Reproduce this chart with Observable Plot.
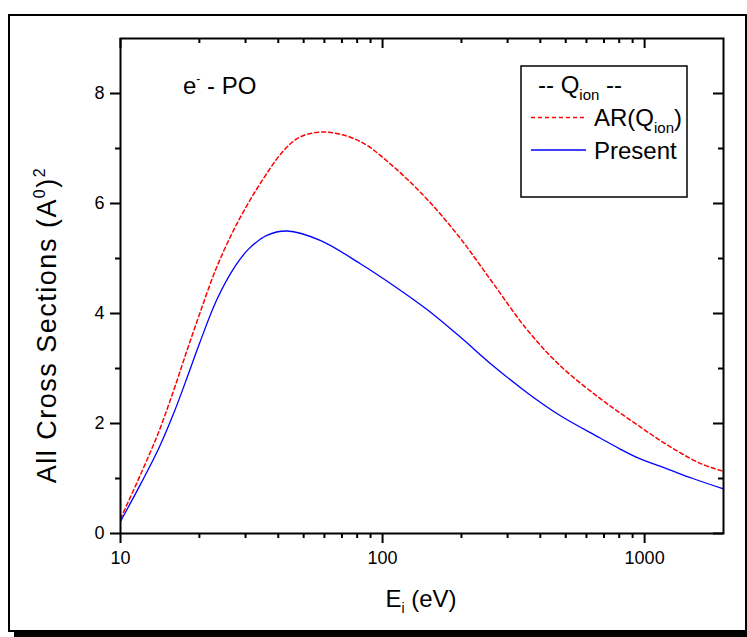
<!DOCTYPE html>
<html>
<head>
<meta charset="utf-8">
<script src="https://cdn.jsdelivr.net/npm/d3@7"></script>
<script src="https://cdn.jsdelivr.net/npm/@observablehq/plot@0.6"></script>
<style>
  html, body { margin: 0; padding: 0; background: #fff; }
  #wrap { position: relative; width: 747px; height: 637px; overflow: hidden; }
  #wrap svg { position: absolute; left: 0; top: 0; }
  #border { position: absolute; left: 8px; top: 14px; width: 735px; height: 614px;
            border: 2px solid #000; box-shadow: 6px 5px 0 0 #000; pointer-events: none; }
</style>
</head>
<body>
<div id="wrap"><div id="border"></div></div>
<script>
// Energies (eV) and cross sections (Å^2)
const arEnergy = [10, 12, 14, 16, 18, 20, 23, 26.6, 30, 34.1, 41.9, 48.5, 60.4, 82, 110, 147, 197, 264, 354, 474, 674, 903, 1211, 1622, 2000];
const arQion   = [0.27, 1.10, 1.85, 2.62, 3.35, 3.98, 4.78, 5.45, 5.92, 6.36, 6.96, 7.21, 7.30, 7.13, 6.67, 6.09, 5.38, 4.55, 3.72, 3.06, 2.46, 2.03, 1.62, 1.28, 1.13];

const presentEnergy = [10, 12, 14, 16, 18, 20, 23.3, 27.4, 30.8, 36.2, 43.2, 57.8, 82, 110, 147, 197, 264, 354, 474, 674, 803, 957, 1211, 1528, 2000];
const presentQion   = [0.22, 0.92, 1.55, 2.20, 2.85, 3.45, 4.25, 4.86, 5.17, 5.42, 5.50, 5.33, 4.91, 4.51, 4.08, 3.58, 3.05, 2.57, 2.15, 1.74, 1.54, 1.36, 1.18, 1.00, 0.81];

const xMajorTicks = [10, 100, 1000];
const xMinorTicks = [20, 30, 40, 50, 60, 70, 80, 90, 200, 300, 400, 500, 600, 700, 800, 900];
const yMajorTicks = [0, 2, 4, 6, 8];
const yMinorTicks = [1, 3, 5, 7];

const arData = arEnergy.map((E, i) => ({E, Q: arQion[i]}));
const presentData = presentEnergy.map((E, i) => ({E, Q: presentQion[i]}));

const W = 747, H = 637, mL = 120, mR = 24, mT = 38, mB = 104;
const innerW = W - mL - mR, innerH = H - mT - mB;
const tickStyle = {stroke: "#000", strokeWidth: 2};

const svg = Plot.plot({
  width: W,
  height: H,
  marginLeft: mL,
  marginRight: mR,
  marginTop: mT,
  marginBottom: mB,
  style: {fontFamily: "'Liberation Sans', Arial, sans-serif", fontSize: "18px", color: "#000", background: "transparent"},
  x: {type: "log", domain: [10, 2000]},
  y: {domain: [0, 9]},
  marks: [
    Plot.line(arData, {x: "E", y: "Q", stroke: "#ff0000", strokeWidth: 1.5, strokeDasharray: "4,3", curve: "catmull-rom"}),
    Plot.line(presentData, {x: "E", y: "Q", stroke: "#0000ff", strokeWidth: 1.3, curve: "catmull-rom"}),
    Plot.frame({stroke: "#000", strokeWidth: 2}),
    // bottom (outward) and top (inward) ticks
    Plot.tickX(xMajorTicks, {x: d => d, ...tickStyle, insetTop: innerH, insetBottom: -10}),
    Plot.tickX(xMinorTicks, {x: d => d, ...tickStyle, insetTop: innerH, insetBottom: -5}),
    Plot.tickX(xMajorTicks, {x: d => d, ...tickStyle, insetTop: 0, insetBottom: innerH - 10}),
    Plot.tickX(xMinorTicks, {x: d => d, ...tickStyle, insetTop: 0, insetBottom: innerH - 5}),
    // left (outward) and right (inward) ticks
    Plot.tickY(yMajorTicks, {y: d => d, ...tickStyle, insetLeft: -10, insetRight: innerW}),
    Plot.tickY(yMinorTicks, {y: d => d, ...tickStyle, insetLeft: -5, insetRight: innerW}),
    Plot.tickY(yMajorTicks, {y: d => d, ...tickStyle, insetLeft: innerW - 10, insetRight: 0}),
    Plot.tickY(yMinorTicks, {y: d => d, ...tickStyle, insetLeft: innerW - 5, insetRight: 0}),
    // tick labels
    Plot.axisX({ticks: xMajorTicks, tickSize: 0, tickPadding: 18, tickFormat: d => String(d), label: null, fontSize: 18}),
    Plot.axisY({ticks: yMajorTicks, tickSize: 0, tickPadding: 16, tickFormat: d => String(d), label: null, fontSize: 18})
  ]
});

const s = d3.select(svg);
const font = "'Liberation Sans', Arial, sans-serif";
function txt(x, y, size) {
  return s.append("text").attr("x", x).attr("y", y).attr("font-family", font)
    .attr("font-size", size).attr("fill", "#000").attr("text-anchor", "start");
}

// system label
const sys = txt(183, 94, 24);
sys.append("tspan").text("e");
sys.append("tspan").attr("font-size", 12).attr("dy", -11).text("-");
sys.append("tspan").attr("dy", 11).text(" - PO");

// x title
const xt = txt(421, 607, 24).attr("text-anchor", "middle");
xt.append("tspan").text("E");
xt.append("tspan").attr("font-size", 14).attr("dy", 6).text("i");
xt.append("tspan").attr("dy", -6).text(" (eV)");

// y title
const yt = s.append("text").attr("transform", "translate(56,325) rotate(-90)").attr("text-anchor", "middle")
  .attr("font-family", font).attr("font-size", 27).attr("letter-spacing", "1.5px").attr("fill", "#000");
yt.append("tspan").text("All Cross Sections (A");
yt.append("tspan").attr("font-size", 16).attr("dy", -11).text("0");
yt.append("tspan").attr("dy", 11).text(")");
yt.append("tspan").attr("font-size", 16).attr("dy", -11).text("2");

// legend
s.append("rect").attr("x", 521).attr("y", 66).attr("width", 166).attr("height", 131)
  .attr("fill", "#fff").attr("stroke", "#000").attr("stroke-width", 1.5);
const l1 = txt(538, 93, 24);
l1.append("tspan").text("-- Q");
l1.append("tspan").attr("font-size", 15).attr("dy", 7).text("ion");
l1.append("tspan").attr("dy", -7).text(" --");
s.append("line").attr("x1", 531).attr("x2", 586).attr("y1", 117.5).attr("y2", 117.5)
  .attr("stroke", "#ff0000").attr("stroke-width", 1.5).attr("stroke-dasharray", "4,3");
const l2 = txt(594, 126, 24);
l2.append("tspan").text("AR(Q");
l2.append("tspan").attr("font-size", 15).attr("dy", 7).text("ion");
l2.append("tspan").attr("dy", -7).text(")");
s.append("line").attr("x1", 531).attr("x2", 586).attr("y1", 150).attr("y2", 150)
  .attr("stroke", "#0000ff").attr("stroke-width", 1.3);
txt(594, 159, 24).text("Present");

document.getElementById("wrap").insertBefore(svg, document.getElementById("border"));
</script>
</body>
</html>
